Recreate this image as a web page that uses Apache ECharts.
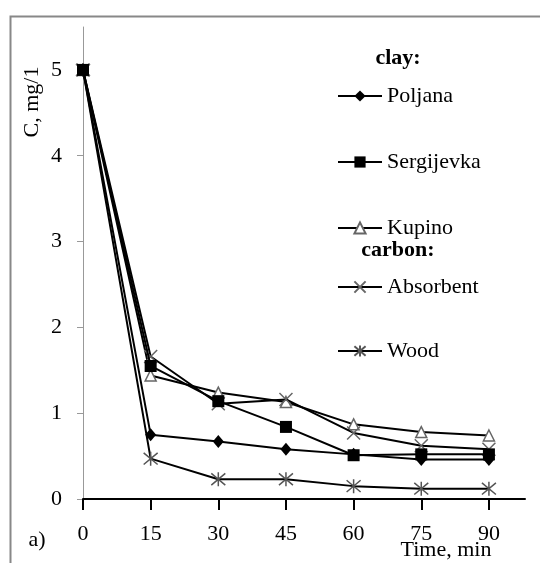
<!DOCTYPE html>
<html>
<head>
<meta charset="utf-8">
<script src="https://cdn.jsdelivr.net/npm/echarts@6/dist/echarts.min.js"></script>
<style>
html,body{margin:0;padding:0;background:#fff;}
#chart{width:540px;height:563px;}
</style>
</head>
<body>
<div id="chart"></div>
<script>
var times = [0, 15, 30, 45, 60, 75, 90];
var xTicks = [0, 15, 30, 45, 60, 75, 90];
var yTicks = [0, 1, 2, 3, 4, 5];
var seriesNames = ['Poljana', 'Sergijevka', 'Kupino', 'Absorbent', 'Wood'];
var poljana    = [5, 0.75, 0.67, 0.58, 0.52, 0.46, 0.46];
var sergijevka = [5, 1.55, 1.14, 0.84, 0.51, 0.52, 0.52];
var kupino     = [5, 1.44, 1.24, 1.13, 0.87, 0.78, 0.74];
var absorbent  = [5, 1.66, 1.11, 1.16, 0.77, 0.62, 0.58];
var wood       = [5, 0.47, 0.23, 0.23, 0.15, 0.12, 0.12];

var FONT = '"Liberation Serif", "Times New Roman", serif';
var FS = 22;

function pairs(vals) {
  return times.map(function (t, i) { return [t, vals[i]]; });
}

var styles = [
  {symbol: 'diamond', symbolSize: [11, 13], z: 3, itemStyle: {color: '#000', borderColor: '#000', borderWidth: 0}},
  {symbol: 'rect', symbolSize: 12, z: 10, itemStyle: {color: '#000', borderColor: '#000', borderWidth: 0}},
  {symbol: 'triangle', symbolSize: 11, z: 4, itemStyle: {color: '#fff', borderColor: '#666', borderWidth: 1.5}},
  {symbol: 'path://M0,0L10,10M10,0L0,10', symbolSize: 13, z: 5, itemStyle: {color: 'none', borderColor: '#666', borderWidth: 1.5}},
  {symbol: 'path://M0,0L10,10M10,0L0,10M5,-1L5,11', symbolSize: 14, z: 2, itemStyle: {color: 'none', borderColor: '#555', borderWidth: 1.5}}
];
var allData = [poljana, sergijevka, kupino, absorbent, wood];

var series = seriesNames.map(function (name, i) {
  return {
    name: name,
    type: 'line',
    data: pairs(allData[i]),
    symbol: styles[i].symbol,
    symbolSize: styles[i].symbolSize,
    showAllSymbol: true,
    lineStyle: {color: '#000', width: 2},
    itemStyle: styles[i].itemStyle,
    emphasis: {disabled: true},
    animation: false,
    z: styles[i].z
  };
});

var legendCenters = [96, 162, 228, 287, 351];
var legends = seriesNames.map(function (name, i) {
  return {
    data: [name],
    left: 337,
    top: legendCenters[i] - 11,
    padding: 0,
    orient: 'vertical',
    itemWidth: 44,
    itemHeight: 14,
    textStyle: {fontFamily: FONT, fontSize: FS, color: '#000'},
    selectedMode: false
  };
});

var chart = echarts.init(document.getElementById('chart'), null, {renderer: 'canvas'});
chart.setOption({
  backgroundColor: '#fff',
  animation: false,
  grid: {left: 83, right: 15, top: 27, bottom: 64, containLabel: false},
  xAxis: {
    type: 'value',
    min: 0, max: 98, interval: 15,
    axisLine: {show: true, onZero: false, lineStyle: {color: '#000', width: 2}},
    axisTick: {show: true, length: 11, lineStyle: {color: '#000', width: 2}, customValues: xTicks},
    axisLabel: {margin: 24, fontFamily: FONT, fontSize: FS, color: '#000', customValues: xTicks},
    splitLine: {show: false}
  },
  yAxis: {
    type: 'value',
    min: 0, max: 5.5, interval: 1,
    axisLine: {show: true, lineStyle: {color: '#999', width: 1}},
    axisTick: {show: true, length: 6, lineStyle: {color: '#999', width: 1}, customValues: yTicks},
    axisLabel: {margin: 21, fontFamily: FONT, fontSize: FS, color: '#000', customValues: yTicks},
    splitLine: {show: false}
  },
  legend: legends,
  graphic: [
    {type: 'rect', left: 8, top: 14, shape: {x: 0, y: 0, width: 620, height: 620},
      style: {fill: 'none', stroke: '#888', lineWidth: 2}, silent: true, z: -1},
    {type: 'text', x: 32, y: 102, rotation: Math.PI / 2,
      style: {text: 'C, mg/1', font: FS + 'px ' + FONT, fill: '#000', textAlign: 'center', textVerticalAlign: 'middle'}},
    {type: 'text', x: 446, y: 550,
      style: {text: 'Time, min', font: FS + 'px ' + FONT, fill: '#000', textAlign: 'center', textVerticalAlign: 'middle'}},
    {type: 'text', x: 37, y: 540,
      style: {text: 'a)', font: FS + 'px ' + FONT, fill: '#000', textAlign: 'center', textVerticalAlign: 'middle'}},
    {type: 'text', x: 398, y: 58,
      style: {text: 'clay:', font: 'bold ' + FS + 'px ' + FONT, fill: '#000', textAlign: 'center', textVerticalAlign: 'middle'}},
    {type: 'text', x: 398, y: 250,
      style: {text: 'carbon:', font: 'bold ' + FS + 'px ' + FONT, fill: '#000', textAlign: 'center', textVerticalAlign: 'middle'}}
  ],
  series: series
});
</script>
</body>
</html>
